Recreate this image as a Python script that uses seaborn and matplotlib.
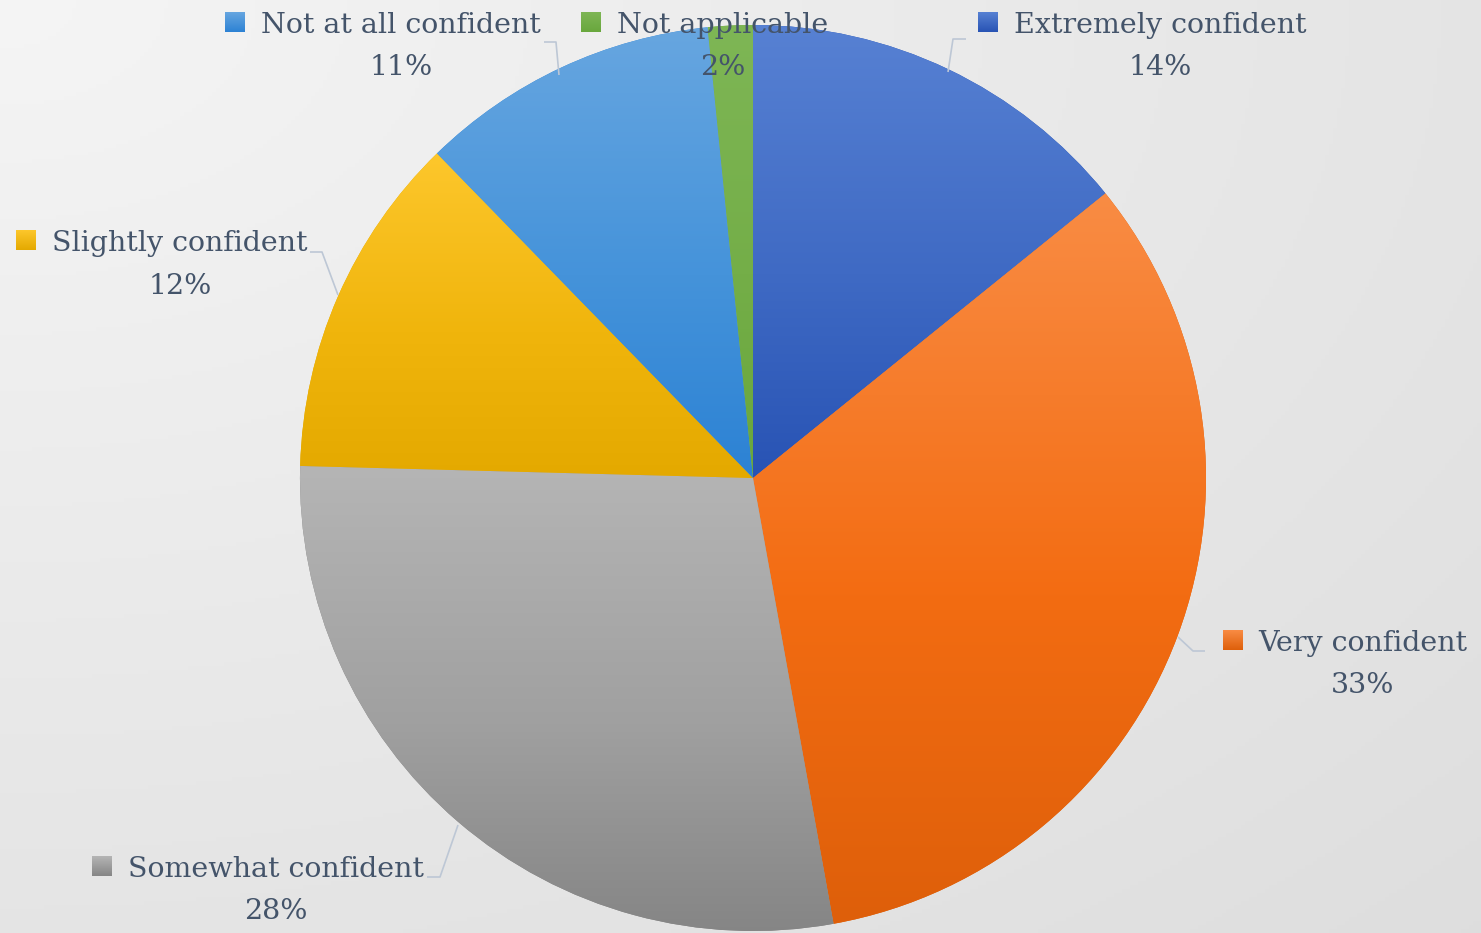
import numpy as np
import matplotlib
matplotlib.use("Agg")
import matplotlib.pyplot as plt
import seaborn as sns
from matplotlib.colors import to_rgb

# ---------------- data ----------------
categories = ["Extremely confident", "Very confident", "Somewhat confident",
              "Slightly confident", "Not at all confident", "Not applicable"]
values = [14.2, 33.0, 28.3, 12.3, 10.7, 1.6]

# ---------------- style ----------------
top_colors = ["#5781D3", "#F98C44", "#B5B5B5", "#FDC72C", "#67A6E0", "#7EB655"]
mid_colors = ["#3F6AC4", "#F36C12", "#A0A0A0", "#F0B50C", "#4593DA", "#74AE48"]
bottom_colors = ["#2853B4", "#DE5F0A", "#858585", "#E4A900", "#2C82D4", "#69A73D"]
text_color = "#44546A"
line_color = "#BDC7D5"

W, H = 1481, 933
sns.set_theme(style="white")
plt.rcParams["font.family"] = ["DejaVu Serif"]

fig = plt.figure(figsize=(W / 100, H / 100), dpi=100)
ax = fig.add_axes([0, 0, 1, 1])


def Y(y):
    return H - y


# background gradient (light top-left -> grey bottom-right)
yy, xx = np.mgrid[0:H:4, 0:W:4]
d = np.sqrt((xx / W) ** 2 + (yy / H) ** 2) / np.sqrt(2)
g = 0.96 - 0.09 * d
bg = np.dstack([g, g, g])
ax.imshow(bg, extent=[0, W, 0, H], origin="upper", zorder=0, aspect="auto")


def grad(c1, c2, c3=None, n=256):
    a = np.array(to_rgb(c1)); b = np.array(to_rgb(c2))
    t = np.linspace(0, 1, n)[:, None]
    if c3 is None:
        return (a * (1 - t) + b * t)[:, None, :]
    m = b; b = np.array(to_rgb(c3))
    out = np.where(t < 0.55, a + (m - a) * (t / 0.55), m + (b - m) * ((t - 0.55) / 0.45))
    return out[:, None, :]


cx, cy, R = 753, Y(478), 453
wedges, _ = ax.pie(values, startangle=90, counterclock=False, center=(cx, cy),
                   radius=R, colors=bottom_colors,
                   wedgeprops=dict(linewidth=0, zorder=2), frame=True)

for w, c1, cm, c2 in zip(wedges, top_colors, mid_colors, bottom_colors):
    v = w.get_path().vertices
    x0, x1 = v[:, 0].min(), v[:, 0].max()
    y0, y1 = v[:, 1].min(), v[:, 1].max()
    im = ax.imshow(grad(c1, cm, c2), extent=[x0, x1, y0, y1], origin="upper",
                   aspect="auto", zorder=3, interpolation="bilinear")
    im.set_clip_path(w)

# ---------------- labels ----------------
# (text centre x, label baseline y, percent baseline y) in image pixels
label_pos = [(1160, 33, 75), (1363, 651, 693), (276, 877, 919),
             (180, 251, 294), (401, 33, 75), (723, 33, 75)]
leaders = [[(948, 72), (953, 39), (966, 39)],
           [(1178, 637), (1193, 651), (1205, 651)],
           [(458, 825), (440, 877), (427, 877)],
           [(338, 295), (322, 252), (310, 252)],
           [(559, 75), (556, 42), (544, 42)],
           None]

fs = 20.5
texts = []
total = sum(values)
for name, v, (tx, by, py) in zip(categories, values, label_pos):
    t = ax.text(tx, Y(by), name, ha="center", va="baseline", fontsize=fs,
                color=text_color, zorder=6)
    ax.text(tx, Y(py), f"{v / total * 100:.0f}%", ha="center", va="baseline",
            fontsize=fs, color=text_color, zorder=6)
    texts.append(t)

for pts in leaders:
    if pts is None:
        continue
    xs = [p[0] for p in pts]; ys = [Y(p[1]) for p in pts]
    ax.plot(xs, ys, color=line_color, lw=1.2, zorder=5, solid_capstyle="butt")

ax.set_xlim(0, W)
ax.set_ylim(0, H)
ax.set_aspect("auto")
ax.axis("off")

fig.canvas.draw()
inv = ax.transData.inverted()
for t, (tx, by, py), c1, c2 in zip(texts, label_pos, top_colors, bottom_colors):
    bb = t.get_window_extent()
    left = inv.transform((bb.x0, 0))[0]
    sx1 = left - 16
    sx0 = sx1 - 20
    ax.imshow(grad(c1, c2), extent=[sx0, sx1, Y(by - 1), Y(by - 21)],
              origin="upper", aspect="auto", zorder=6, interpolation="bilinear")

ax.set_xlim(0, W)
ax.set_ylim(0, H)
ax.set_aspect("auto")
fig.savefig("out.png", dpi=100)
